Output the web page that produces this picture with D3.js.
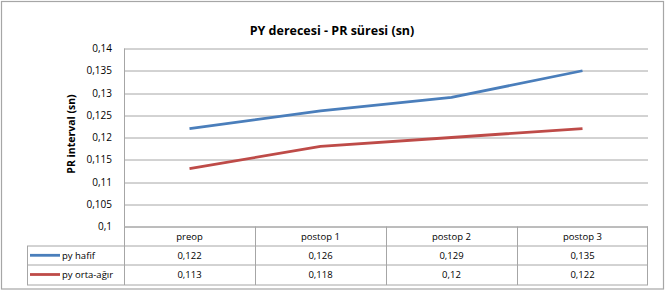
<!DOCTYPE html>
<html>
<head>
<meta charset="utf-8">
<script src="https://cdn.jsdelivr.net/npm/d3@7"></script>
<style>
  body { margin: 0; background: #fff; }
  text { font-family: "Open Sans", "Noto Sans", sans-serif; fill: #000; }
</style>
</head>
<body>
<div class="chart"></div>
<script>
var categories = ['preop', 'postop 1', 'postop 2', 'postop 3'];
var seriesNames = ['py hafif', 'py orta-ağır'];
var hafif = [0.122, 0.126, 0.129, 0.135];
var ortaAgir = [0.113, 0.118, 0.12, 0.122];
var yTicks = [0.1, 0.105, 0.11, 0.115, 0.12, 0.125, 0.13, 0.135, 0.14];
var colors = ['#4a7ebb', '#be4b48'];

var W = 667, H = 292;
var margin = { top: 48.5, right: 19, bottom: 65.5, left: 124 };
var width = W - margin.left - margin.right;
var height = H - margin.top - margin.bottom;
var rowH = 19.2;

var svg = d3.select('.chart')
    .append('svg')
    .attr('width', W)
    .attr('height', H);

// outer border
svg.append('rect')
    .attr('x', 1.5).attr('y', 1.5)
    .attr('width', 662).attr('height', 287.5)
    .attr('fill', '#fff')
    .attr('stroke', '#a6a6a6')
    .attr('stroke-width', 1.2);

svg.append('text')
    .attr('x', 332)
    .attr('y', 35)
    .attr('text-anchor', 'middle')
    .style('font-size', '12.5px')
    .style('font-weight', 'bold')
    .text('PY derecesi - PR süresi (sn)');

var g = svg.append('g')
    .attr('transform', 'translate(' + margin.left + ', ' + margin.top + ')');

var xScale = d3.scaleBand()
    .domain(categories)
    .range([0, width]);

var yScale = d3.scaleLinear()
    .domain([0.1, 0.14])
    .range([height, 0]);

var fmt = function (d) { return String(+d.toFixed(3)).replace('.', ','); };

// gridlines
g.selectAll('.grid')
    .data(yTicks)
    .enter()
    .append('line')
    .attr('x1', 0).attr('x2', width)
    .attr('y1', d => Math.round(yScale(d)) + 0.5)
    .attr('y2', d => Math.round(yScale(d)) + 0.5)
    .attr('stroke', '#a6a6a6')
    .attr('stroke-width', 1);

// y axis
var yAxis = d3.axisLeft(yScale)
    .tickValues(yTicks)
    .tickFormat(fmt)
    .tickSize(0)
    .tickPadding(12);
g.append('g')
    .call(yAxis)
    .call(s => s.select('.domain').remove())
    .selectAll('text')
    .style('font-size', '10px')
    .style('font-family', '"Open Sans", sans-serif');

g.append('line')
    .attr('x1', 0.5).attr('x2', 0.5)
    .attr('y1', 0).attr('y2', height)
    .attr('stroke', '#a6a6a6');

svg.append('text')
    .attr('transform', 'translate(75, 134) rotate(-90)')
    .attr('text-anchor', 'middle')
    .style('font-size', '10.5px')
    .style('font-weight', 'bold')
    .text('PR interval (sn)');

// lines
var line = d3.line()
    .x((d, i) => xScale(categories[i]) + xScale.bandwidth() / 2)
    .y(d => yScale(d));

[hafif, ortaAgir].forEach(function (vals, k) {
    g.append('path')
        .datum(vals)
        .attr('d', line)
        .attr('fill', 'none')
        .attr('stroke', colors[k])
        .attr('stroke-width', 2.8)
        .attr('stroke-linejoin', 'round');
});

// data table
var t = svg.append('g')
    .attr('transform', 'translate(' + margin.left + ', ' + (margin.top + height) + ')');
var stroke = '#a6a6a6';
var legendLeft = 27 - margin.left;

// horizontal rules
[0, 1, 2, 3].forEach(function (r) {
    t.append('line')
        .attr('x1', r === 0 ? 0 : legendLeft).attr('x2', width)
        .attr('y1', Math.round(r * rowH) + 0.5).attr('y2', Math.round(r * rowH) + 0.5)
        .attr('stroke', stroke);
});
// vertical rules
t.append('line')
    .attr('x1', legendLeft + 0.5).attr('x2', legendLeft + 0.5)
    .attr('y1', Math.round(rowH) + 0.5).attr('y2', Math.round(3 * rowH) + 0.5)
    .attr('stroke', stroke);
categories.forEach(function (c, i) {
    var x = Math.round(xScale(c)) + 0.5;
    t.append('line')
        .attr('x1', x).attr('x2', x)
        .attr('y1', 0).attr('y2', Math.round(3 * rowH) + 0.5)
        .attr('stroke', stroke);
});
t.append('line')
    .attr('x1', width - 0.5).attr('x2', width - 0.5)
    .attr('y1', 0).attr('y2', Math.round(3 * rowH) + 0.5)
    .attr('stroke', stroke);

// header row
t.selectAll('.hdr')
    .data(categories)
    .enter()
    .append('text')
    .attr('x', d => xScale(d) + xScale.bandwidth() / 2)
    .attr('y', rowH / 2 + 3.5)
    .attr('text-anchor', 'middle')
    .style('font-size', '9.5px')
    .text(d => d);

[hafif, ortaAgir].forEach(function (vals, k) {
    var yc = (k + 1.5) * rowH;
    t.selectAll('.v' + k)
        .data(vals)
        .enter()
        .append('text')
        .attr('x', (d, i) => xScale(categories[i]) + xScale.bandwidth() / 2)
        .attr('y', yc + 3.5)
        .attr('text-anchor', 'middle')
        .style('font-size', '9.5px')
        .text(d => fmt(d));

    t.append('line')
        .attr('x1', legendLeft + 3).attr('x2', legendLeft + 33)
        .attr('y1', yc).attr('y2', yc)
        .attr('stroke', colors[k])
        .attr('stroke-width', 2.8);
    t.append('text')
        .attr('x', legendLeft + 35)
        .attr('y', yc + 3.5)
        .style('font-size', '9.5px')
        .text(seriesNames[k]);
});
</script>
</body>
</html>
